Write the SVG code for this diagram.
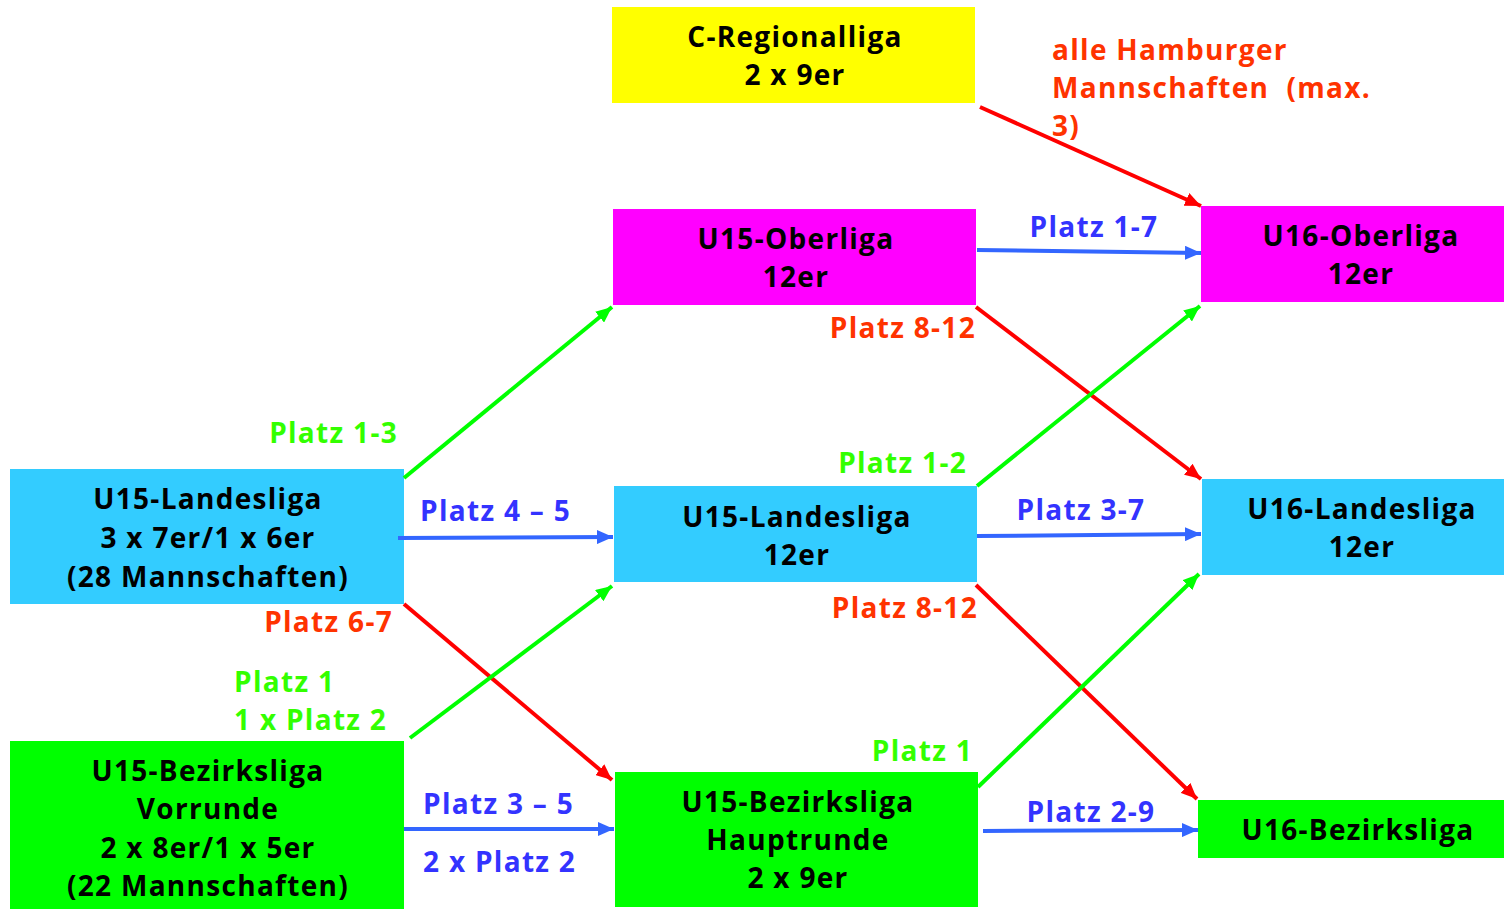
<svg xmlns="http://www.w3.org/2000/svg" width="1504" height="909" viewBox="0 0 1504 909">
<style>
.t{font-family:"Open Sans","Liberation Sans",sans-serif;font-weight:bold;font-size:28px;letter-spacing:1.3px;fill:#000;text-anchor:middle}
.l{font-family:"Open Sans","Liberation Sans",sans-serif;font-weight:bold;font-size:28px;letter-spacing:1.3px}
.g{fill:#33ff00}.r{fill:#ff3300}.b{fill:#3333ff}
.ag{stroke:#00ff00;stroke-width:4;fill:none}
.ar{stroke:#ff0000;stroke-width:4;fill:none}
.ab{stroke:#3366ff;stroke-width:4;fill:none}
</style>
<defs>
<marker id="mg" markerUnits="userSpaceOnUse" markerWidth="18" markerHeight="14" refX="16" refY="7" orient="auto"><path d="M0,0 L16,7 L0,14 Z" fill="#00ff00"/></marker>
<marker id="mr" markerUnits="userSpaceOnUse" markerWidth="18" markerHeight="14" refX="16" refY="7" orient="auto"><path d="M0,0 L16,7 L0,14 Z" fill="#ff0000"/></marker>
<marker id="mb" markerUnits="userSpaceOnUse" markerWidth="18" markerHeight="14" refX="16" refY="7" orient="auto"><path d="M0,0 L16,7 L0,14 Z" fill="#3366ff"/></marker>
</defs>
<rect width="1504" height="909" fill="#fff"/>
<g id="c-regionalliga"><rect x="612" y="7" width="363" height="96" fill="#ffff00"/><text class="t" x="795" y="47">C-Regionalliga</text><text class="t" x="795" y="85">2 x 9er</text></g>
<g id="u15-oberliga"><rect x="613" y="209" width="363" height="96" fill="#ff00ff"/><text class="t" x="796" y="249">U15-Oberliga</text><text class="t" x="796" y="287">12er</text></g>
<g id="u16-oberliga"><rect x="1201" y="206" width="303" height="96" fill="#ff00ff"/><text class="t" x="1361" y="246">U16-Oberliga</text><text class="t" x="1361" y="284">12er</text></g>
<g id="u15-landesliga-vr"><rect x="10" y="469" width="394" height="135" fill="#33ccff"/><text class="t" x="208" y="509">U15-Landesliga</text><text class="t" x="208" y="548">3 x 7er/1 x 6er</text><text class="t" x="208" y="587">(28 Mannschaften)</text></g>
<g id="u15-landesliga"><rect x="614" y="486" width="363" height="96" fill="#33ccff"/><text class="t" x="797" y="527">U15-Landesliga</text><text class="t" x="797" y="565">12er</text></g>
<g id="u16-landesliga"><rect x="1202" y="479" width="302" height="96" fill="#33ccff"/><text class="t" x="1362" y="519">U16-Landesliga</text><text class="t" x="1362" y="557">12er</text></g>
<g id="u15-bezirksliga-vr"><rect x="10" y="741" width="394" height="168" fill="#00ff00"/><text class="t" x="208" y="781">U15-Bezirksliga</text><text class="t" x="208" y="819">Vorrunde</text><text class="t" x="208" y="858">2 x 8er/1 x 5er</text><text class="t" x="208" y="896">(22 Mannschaften)</text></g>
<g id="u15-bezirksliga-hr"><rect x="615" y="772" width="363" height="135" fill="#00ff00"/><text class="t" x="798" y="812">U15-Bezirksliga</text><text class="t" x="798" y="850">Hauptrunde</text><text class="t" x="798" y="888">2 x 9er</text></g>
<g id="u16-bezirksliga"><rect x="1198" y="800" width="306" height="58" fill="#00ff00"/><text class="t" x="1358" y="840">U16-Bezirksliga</text></g>
<g id="connectors">
<line class="ar" x1="980" y1="107" x2="1201" y2="206" marker-end="url(#mr)"/>
<line class="ab" x1="977" y1="250" x2="1201" y2="253" marker-end="url(#mb)"/>
<line class="ar" x1="976" y1="307" x2="1201" y2="479" marker-end="url(#mr)"/>
<line class="ag" x1="977" y1="486" x2="1200" y2="306" marker-end="url(#mg)"/>
<line class="ab" x1="977" y1="536" x2="1201" y2="534" marker-end="url(#mb)"/>
<line class="ar" x1="976" y1="585" x2="1197" y2="799" marker-end="url(#mr)"/>
<line class="ag" x1="978" y1="787" x2="1199" y2="574" marker-end="url(#mg)"/>
<line class="ab" x1="983" y1="831" x2="1198" y2="830" marker-end="url(#mb)"/>
<line class="ag" x1="404" y1="478" x2="612" y2="307" marker-end="url(#mg)"/>
<line class="ab" x1="398" y1="538" x2="613" y2="537" marker-end="url(#mb)"/>
<line class="ar" x1="404" y1="604" x2="612" y2="780" marker-end="url(#mr)"/>
<line class="ag" x1="410" y1="738" x2="612" y2="586" marker-end="url(#mg)"/>
<line class="ab" x1="404" y1="829" x2="614" y2="829" marker-end="url(#mb)"/>
</g>
<g id="labels">
<text class="l r" x="1052" y="60">alle Hamburger</text>
<text class="l r" x="1052" y="98" xml:space="preserve">Mannschaften  (max.</text>
<text class="l r" x="1052" y="136">3)</text>
<text class="l b" x="1094" y="237" text-anchor="middle">Platz 1-7</text>
<text class="l r" x="976" y="338" text-anchor="end">Platz 8-12</text>
<text class="l g" x="967" y="473" text-anchor="end">Platz 1-2</text>
<text class="l b" x="1081" y="520" text-anchor="middle">Platz 3-7</text>
<text class="l r" x="978" y="618" text-anchor="end">Platz 8-12</text>
<text class="l g" x="973" y="761" text-anchor="end">Platz 1</text>
<text class="l b" x="1091" y="822" text-anchor="middle">Platz 2-9</text>
<text class="l g" x="398" y="443" text-anchor="end">Platz 1-3</text>
<text class="l b" x="420" y="521">Platz 4 – 5</text>
<text class="l r" x="393" y="632" text-anchor="end">Platz 6-7</text>
<text class="l g" x="234" y="692">Platz 1</text>
<text class="l g" x="234" y="730">1 x Platz 2</text>
<text class="l b" x="423" y="814">Platz 3 – 5</text>
<text class="l b" x="423" y="872">2 x Platz 2</text>
</g>
</svg>
